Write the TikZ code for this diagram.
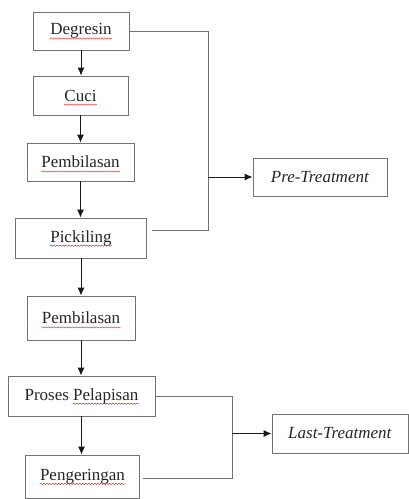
\documentclass[tikz,border=0pt]{standalone}
\usepackage{fontspec}
\setmainfont{Liberation Serif}
\usetikzlibrary{arrows.meta,calc,decorations.pathmorphing}
\begin{document}
\begin{tikzpicture}[x=1pt,y=-1pt,
  stage/.style={draw=black!55, line width=0.9pt, rectangle, inner sep=0pt,
    font=\fontsize{17}{20}\selectfont, text=black!85},
  word/.style={inner sep=0pt, font=\fontsize{17}{20}\selectfont},
  squiggle/.style={draw=red!85, line width=0.45pt, decorate,
    decoration={snake, amplitude=0.6pt, segment length=3pt}},
  link/.style={draw=black!55, line width=0.9pt},
  flow/.style={draw=black!90, line width=0.9pt, -{Latex[length=8pt,width=7pt]}}]
  \useasboundingbox[fill=white] (0,0) rectangle (408,499);

  % main process column
  \node[stage, minimum width=96pt,  minimum height=38pt] (deg)  at (81,31)    {Degresin};
  \node[stage, minimum width=95pt,  minimum height=39pt] (cuci) at (80.5,95.5) {Cuci};
  \node[stage, minimum width=107pt, minimum height=38pt] (bil1) at (80.5,162)  {Pembilasan};
  \node[stage, minimum width=131pt, minimum height=40pt] (pick) at (81,238)    {Pickiling};
  \node[stage, minimum width=108pt, minimum height=44pt] (bil2) at (81,318)    {Pembilasan};
  \node[stage, minimum width=147pt, minimum height=40pt] (lap)  at (81.5,396)  {Proses Pelapisan};
  \node[stage, minimum width=114pt, minimum height=43pt] (ker)  at (82.5,476.5) {Pengeringan};

  % spell-check squiggles under the words
  \foreach \n/\w in {deg/Degresin, cuci/Cuci, bil1/Pembilasan, pick/Pickiling,
                     bil2/Pembilasan, ker/Pengeringan} {
    \node[word, anchor=base] (\n w) at (\n.base) {\phantom{\w}};
    \draw[squiggle] ([yshift=-3.6pt]\n w.base west) -- ([yshift=-3.6pt]\n w.base east);
  }
  \node[word, anchor=base] (lapfull) at (lap.base) {\phantom{Proses Pelapisan}};
  \node[word, anchor=base east] (lapw) at (lapfull.base east) {\phantom{Pelapisan}};
  \draw[squiggle] ([yshift=-3.6pt]lapw.base west) -- ([yshift=-3.6pt]lapw.base east);

  % treatment groups
  \node[stage, minimum width=134pt, minimum height=38pt] (pre)  at (320,177)   {\textit{Pre-Treatment}};
  \node[stage, minimum width=136pt, minimum height=39pt] (last) at (340,433.5) {\textit{Last-Treatment}};

  % step-to-step arrows, kept vertical
  \draw[flow] (deg.south) -- (deg.south |- cuci.north);
  \draw[flow] (cuci.south) -- (cuci.south |- bil1.north);
  \draw[flow] (bil1.south) -- (bil1.south |- pick.north);
  \draw[flow] (pick.south) -- (pick.south |- bil2.north);
  \draw[flow] (bil2.south) -- (bil2.south |- lap.north);
  \draw[flow] (lap.south) -- (lap.south |- ker.north);

  % bracket for pre-treatment
  \coordinate (j1) at (208,177);
  \coordinate (pickout) at ($(pick.east)+(5,-8)$);
  \draw[link] (deg.east) -- (deg.east -| j1) -- (j1 |- pickout) -- (pickout);
  \draw[flow] (j1) -- (pre);

  % bracket for last-treatment
  \coordinate (j2) at (232,433.5);
  \coordinate (kerout) at ($(ker.east)+(3,1.5)$);
  \draw[link] (lap.east) -- (lap.east -| j2) -- (j2 |- kerout) -- (kerout);
  \draw[flow] (j2) -- (last);
\end{tikzpicture}
\end{document}
